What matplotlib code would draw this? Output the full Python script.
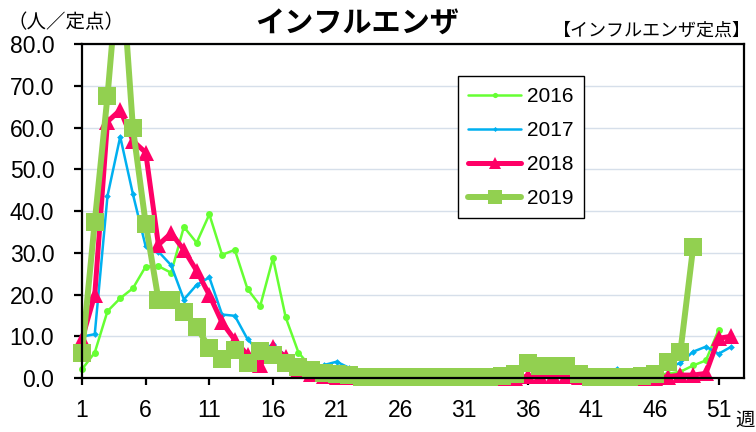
import matplotlib
matplotlib.use("Agg")
import matplotlib.pyplot as plt
from matplotlib.lines import Line2D

plt.rcParams['font.family'] = ['Liberation Sans', 'DejaVu Sans']
jp = ['Noto Sans CJK JP', 'DejaVu Sans']

# weekly reports per sentinel site
y2016 = [2.1, 6.1, 16.0, 19.1, 21.5, 26.7, 26.8, 25.2, 36.2, 32.4,
         39.2, 29.5, 30.7, 21.3, 17.3, 28.7, 14.5, 6.1, 2.5, 1.2,
         0.8, 0.5, 0.3, 0.2, 0.2, 0.1, 0.1, 0.1, 0.1, 0.1,
         0.1, 0.1, 0.1, 0.1, 0.1, 0.2, 0.2, 0.2, 0.2, 0.3,
         0.3, 0.3, 0.4, 0.5, 0.6, 0.8, 1.0, 1.5, 3.0, 4.2,
         11.5]
y2017 = [9.9, 10.5, 43.6, 57.8, 44.0, 31.5, 30.3, 27.0, 18.8, 22.3,
         24.1, 15.2, 14.9, 9.3, 6.0, 8.2, 5.3, 3.0, 2.0, 3.1,
         3.9, 2.4, 1.0, 0.6, 0.4, 0.3, 0.2, 0.2, 0.2, 0.2,
         0.2, 0.2, 0.2, 0.2, 0.2, 0.2, 0.2, 0.2, 0.3, 0.3,
         0.3, 1.0, 2.2, 1.0, 1.0, 1.5, 2.5, 3.6, 6.3, 7.5,
         5.8, 7.5]
y2018 = [9.3, 19.9, 61.4, 64.2, 56.8, 54.0, 31.9, 34.7, 30.7, 25.7,
         19.9, 13.3, 9.1, 5.5, 3.1, 7.5, 5.0, 2.0, 1.0, 0.5,
         0.3, 0.2, 0.1, 0.1, 0.1, 0.0, 0.0, 0.0, 0.0, 0.0,
         0.0, 0.0, 0.0, 0.0, 0.0, 0.4, 0.4, 0.4, 0.4, 0.2,
         0.1, 0.1, 0.0, 0.0, 0.0, 0.0, 0.3, 0.7, 0.7, 1.1,
         9.5, 10.0]
y2019 = [5.9, 37.4, 67.5, 103.0, 59.8, 37.0, 18.8, 18.7, 15.9, 12.3,
         7.1, 4.5, 6.7, 3.5, 6.5, 5.5, 3.5, 2.6, 1.8, 1.3,
         1.0, 0.6, 0.2, 0.2, 0.2, 0.2, 0.2, 0.2, 0.2, 0.2,
         0.2, 0.2, 0.3, 0.5, 1.0, 3.6, 2.8, 2.8, 2.8, 1.0,
         0.2, 0.2, 0.2, 0.2, 0.5, 1.0, 3.8, 6.3, 31.3]

years = ['2016', '2017', '2018', '2019']
series = [y2016, y2017, y2018, y2019]
colors = ['#66FF33', '#00B0F0', '#FF0066', '#92D050']
markers = ['o', 'D', '^', 's']
msizes = [5, 3.4, 11, 13.5]
lwidths = [1.8, 1.8, 3.6, 4.3]

xticks = list(range(1, 52, 5))
yticks = [0, 10, 20, 30, 40, 50, 60, 70, 80]

fig = plt.figure(figsize=(7.56, 4.32), dpi=100)
ax = fig.add_axes([0.1085, 0.125, 0.8757, 0.7731])

handles = []
for yr, vals, c, m, ms, lw in zip(years, series, colors, markers, msizes, lwidths):
    weeks = list(range(1, len(vals) + 1))
    # line clipped at the top of the plot, markers drawn unclipped like Excel
    ax.plot(weeks, vals, color=c, lw=lw, solid_joinstyle='round')
    ax.plot(weeks, vals, linestyle='none', marker=m, ms=ms, color=c,
            markeredgewidth=0, clip_on=False)
    handles.append(Line2D([], [], color=c, lw=lw, marker=m, ms=ms * 0.75,
                          markeredgewidth=0, solid_capstyle='round'))

ax.set_xlim(1, 53)
ax.set_ylim(0, 80)
ax.set_xticks(xticks)
ax.set_yticks(yticks)
ax.set_yticklabels([f"{v:.1f}" for v in yticks])
ax.grid(axis='y', color='#d6dfea', lw=1)
ax.set_axisbelow(True)

for s in ax.spines.values():
    s.set_linewidth(1.6)
    s.set_color('black')
ax.tick_params(axis='y', direction='out', length=6, width=1.6, pad=14, labelsize=16.5)
ax.tick_params(axis='x', direction='out', length=5, width=1.6, pad=10, labelsize=16.5)

leg = ax.legend(handles, years, loc='upper left', bbox_to_anchor=(0.568, 0.903),
                fontsize=15, frameon=True, fancybox=False, framealpha=1,
                edgecolor='black', handlelength=2.5, handletextpad=0.3,
                labelspacing=0.72, borderpad=0.5, borderaxespad=0)
leg.get_frame().set_linewidth(1.0)

fig.text(0.010, 0.947, '（人／定点）', family=jp, fontsize=14, va='center', ha='left')
fig.text(0.472, 0.947, 'インフルエンザ', family=jp, fontsize=21, fontweight='bold',
         va='center', ha='center')
fig.text(0.993, 0.930, '【インフルエンザ定点】', family=jp, fontsize=13,
         va='center', ha='right')
fig.text(0.998, 0.028, '週', family=jp, fontsize=14, va='center', ha='right')

fig.savefig('out.png', dpi=100)
